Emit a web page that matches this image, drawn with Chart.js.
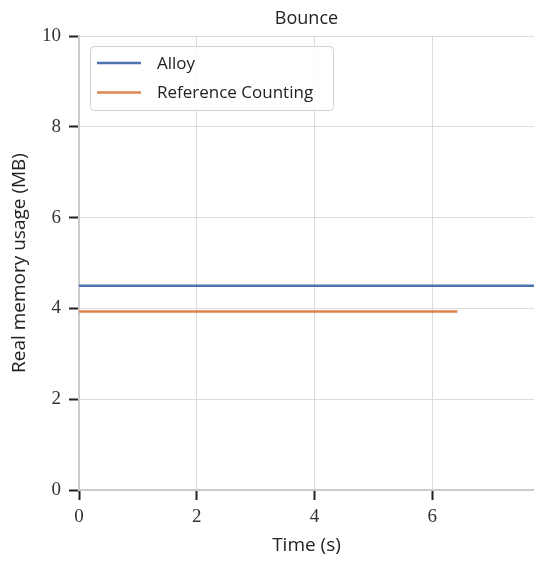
<!DOCTYPE html>
<html>
<head>
<meta charset="utf-8">
<script src="https://cdn.jsdelivr.net/npm/chart.js@4"></script>
<style>
  html, body { margin: 0; padding: 0; background: #ffffff; }
  #wrap { width: 534px; height: 561px; }
</style>
</head>
<body>
<div id="wrap"><canvas id="c" width="534" height="561"></canvas></div>
<script>
// Memory usage over time for the Bounce benchmark
const chartTitle = 'Bounce';
const seriesNames = ['Alloy', 'Reference Counting'];
const alloyTime = [0, 7.73];
const alloyMem = [4.5, 4.5];
const rcTime = [0, 6.43];
const rcMem = [3.93, 3.93];
const xTicks = [0, 2, 4, 6];
const yTicks = [0, 2, 4, 6, 8, 10];
const xLabel = 'Time (s)';
const yLabel = 'Real memory usage (MB)';

const colors = ['#4c72b0', '#dd8452'];
const sansFont = "'Open Sans', 'DejaVu Sans', sans-serif";
const serifFont = "'Liberation Serif', 'DejaVu Serif', serif";

const toPoints = (xs, ys) => xs.map((x, i) => ({ x: x, y: ys[i] }));

// Title centred over the plot area
const titlePlugin = {
  id: 'plotTitle',
  afterDraw(chart) {
    const { ctx, chartArea } = chart;
    ctx.save();
    ctx.font = '18px ' + sansFont;
    ctx.fillStyle = '#222222';
    ctx.textAlign = 'center';
    ctx.textBaseline = 'middle';
    ctx.fillText(chartTitle, (chartArea.left + chartArea.right) / 2, 19);
    ctx.restore();
  }
};

// Boxed legend in the upper-left corner of the plot
const legendPlugin = {
  id: 'boxLegend',
  afterDraw(chart) {
    const { ctx, chartArea } = chart;
    const x0 = chartArea.left + 11, y0 = chartArea.top + 10;
    const w = 243, h = 64, r = 4;
    ctx.save();
    ctx.globalAlpha = 0.85;
    ctx.fillStyle = '#ffffff';
    ctx.strokeStyle = '#d0d0d0';
    ctx.lineWidth = 1;
    ctx.beginPath();
    ctx.roundRect(x0 + 0.5, y0 + 0.5, w, h, r);
    ctx.fill();
    ctx.globalAlpha = 1;
    ctx.stroke();
    ctx.font = '17px ' + sansFont;
    ctx.textBaseline = 'middle';
    ctx.textAlign = 'left';
    chart.data.datasets.forEach((ds, i) => {
      const yy = y0 + 17 + i * 29.5;
      ctx.strokeStyle = ds.borderColor;
      ctx.lineWidth = 2.5;
      ctx.beginPath();
      ctx.moveTo(x0 + 7, yy);
      ctx.lineTo(x0 + 51, yy);
      ctx.stroke();
      ctx.fillStyle = '#222222';
      ctx.fillText(ds.label, x0 + 67, yy + 1);
    });
    ctx.restore();
  }
};

new Chart(document.getElementById('c'), {
  type: 'line',
  data: {
    datasets: [
      { label: seriesNames[0], data: toPoints(alloyTime, alloyMem), borderColor: colors[0], backgroundColor: colors[0], borderWidth: 2.5, pointRadius: 0, tension: 0 },
      { label: seriesNames[1], data: toPoints(rcTime, rcMem), borderColor: colors[1], backgroundColor: colors[1], borderWidth: 2.5, pointRadius: 0, tension: 0 }
    ]
  },
  options: {
    responsive: false,
    animation: false,
    devicePixelRatio: 1,
    layout: { padding: { top: 36, right: 0, left: 0, bottom: 0 } },
    plugins: { legend: { display: false }, tooltip: { enabled: false }, title: { display: false } },
    scales: {
      x: {
        type: 'linear',
        min: 0,
        max: 7.73,
        afterBuildTicks(scale) { scale.ticks = xTicks.map(v => ({ value: v })); },
        afterFit(scale) { scale.height = 71; },
        ticks: { font: { family: serifFont, size: 19 }, color: '#333333', padding: 6, maxRotation: 0 },
        grid: { color: '#dcdcdc', lineWidth: 1, tickLength: 10, tickColor: '#222222', tickWidth: 2 },
        border: { color: '#cccccc', width: 2 },
        title: { display: true, text: xLabel, font: { family: sansFont, size: 19 }, color: '#222222', padding: { top: 0, bottom: 4 } }
      },
      y: {
        min: 0,
        max: 10,
        afterBuildTicks(scale) { scale.ticks = yTicks.map(v => ({ value: v })); },
        afterFit(scale) { scale.width = 79; },
        ticks: { font: { family: serifFont, size: 19 }, color: '#333333', padding: 8 },
        grid: { color: '#dcdcdc', lineWidth: 1, tickLength: 10, tickColor: '#222222', tickWidth: 2 },
        border: { color: '#cccccc', width: 2 },
        title: { display: true, text: yLabel, font: { family: sansFont, size: 19 }, color: '#222222', padding: { top: 8, bottom: 0 } }
      }
    }
  },
  plugins: [titlePlugin, legendPlugin]
});
</script>
</body>
</html>
